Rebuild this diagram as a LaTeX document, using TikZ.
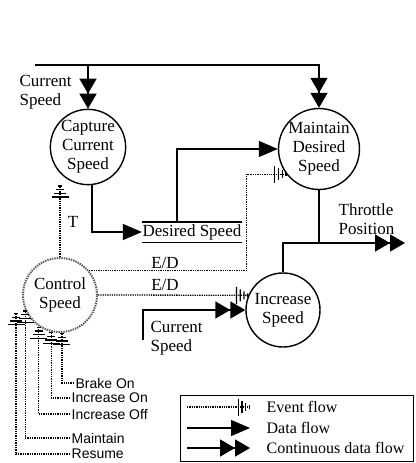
\documentclass[tikz,border=0pt]{standalone}
\usepackage{fontspec}
\setmainfont{Liberation Serif}
\setsansfont{Liberation Sans}
\usetikzlibrary{arrows.meta}

\begin{document}
\begin{tikzpicture}[x=1pt, y=-1pt, line width=1.3pt,
  every node/.style={font=\fontsize{17}{19}\selectfont, inner sep=1pt},
  proc/.style={draw, circle, minimum size=74pt, inner sep=0pt, align=center, line width=1.4pt},
  ctlproc/.style={proc, draw=black!65, densely dotted, line width=2pt},
  store/.style={minimum width=99pt, minimum height=19pt, inner sep=0pt},
  ev/.style={densely dotted, line width=1.3pt, -{Bar[width=17pt,sep=2.4pt]Bar[width=12pt,sep=2.4pt]Bar[width=8pt,sep=2.4pt]Bar[width=4pt]}},
  dflow/.style={-{Triangle[length=19pt,width=16pt]}},
  cflow/.style={line width=1.6pt, -{Triangle[length=15pt,width=17pt]Triangle[length=15pt,width=17pt]}},
  inp/.style={anchor=west, font=\sffamily\fontsize{14}{16}\selectfont},
  lgd/.style={anchor=west, font=\fontsize{16}{19}\selectfont}]
\useasboundingbox (0,0) rectangle (415,463);
% processes
\node[proc] (cap) at (88,147) {Capture\\Current\\Speed};
\node[proc] (mds) at (319,149) {Maintain\\Desired\\Speed};
\node[ctlproc] (ctl) at (60,295) {Control\\Speed};
\node[proc] (inc) at (283,310) {Increase\\Speed};
% data store
\node[store] (ds) at (192,232) {Desired Speed};
\draw (ds.north west) -- (ds.north east) (ds.south west) -- (ds.south east);
% free ends
\coordinate (feed) at (35,65);
\coordinate (thr) at (405,243);
\coordinate (csin) at (143,340);
% labels
\node[anchor=west, align=left] (csl) at (18,92) {Current\\Speed};
\node (tl) at (73,222) {T};
\node (ed1) at (165,263) {E/D};
\node (ed2) at (165,285) {E/D};
\node[anchor=west, align=left] (csl2) at (149,338) {Current\\Speed};
\node[anchor=west, align=left] (tpl) at (337,219) {Throttle\\Position};
\node[inp] (brk) at (74,383) {Brake On};
\node[inp] (ion) at (70,398) {Increase On};
\node[inp] (ioff) at (70,414) {Increase Off};
\node[inp] (mtn) at (70,438) {Maintain};
\node[inp] (res) at (70,454) {Resume};
% flows
\draw[cflow] (feed) -| (mds.north);
\draw[cflow] (cap.north |- feed) -- (cap.north);
\draw[dflow] ([xshift=4pt]cap.south) |- (ds.west);
\draw[dflow] ([xshift=-15pt]ds.north) |- (mds.west);
\draw[ev] (ctl.north) -- (cap.south -| ctl.north);
\draw[ev] (ctl.40) -| ([xshift=-40pt]mds.218) -- (mds.218);
\draw[ev] (ctl.east) -- (inc.157);
\draw[cflow] (csin) |- (inc.west);
\draw[cflow] (inc.north) |- (thr);
\draw (mds.south) -- (mds.south |- thr);
\draw[ev] (brk.west) -| (ctl.273);
\draw[ev] (ion.west) -| (ctl.257);
\draw[ev] (ioff.west) -| (ctl.236);
\draw[ev] (mtn.west) -| (ctl.204);
\draw[ev] (res.west) -| ([shift={(-6,18)}]ctl.west);
% legend
\draw[line width=1pt] (180,395) rectangle (413,461);
\node[lgd] (lev) at (265,407) {Event flow};
\node[lgd] (ldf) at (265,428) {Data flow};
\node[lgd] (lcf) at (265,448) {Continuous data flow};
\draw[ev] ([xshift=-78pt]lev.west) -- ([xshift=-15pt]lev.west);
\draw[dflow] ([xshift=-78pt]ldf.west) -- ([xshift=-15pt]ldf.west);
\draw[cflow] ([xshift=-78pt]lcf.west) -- ([xshift=-15pt]lcf.west);
\end{tikzpicture}
\end{document}
